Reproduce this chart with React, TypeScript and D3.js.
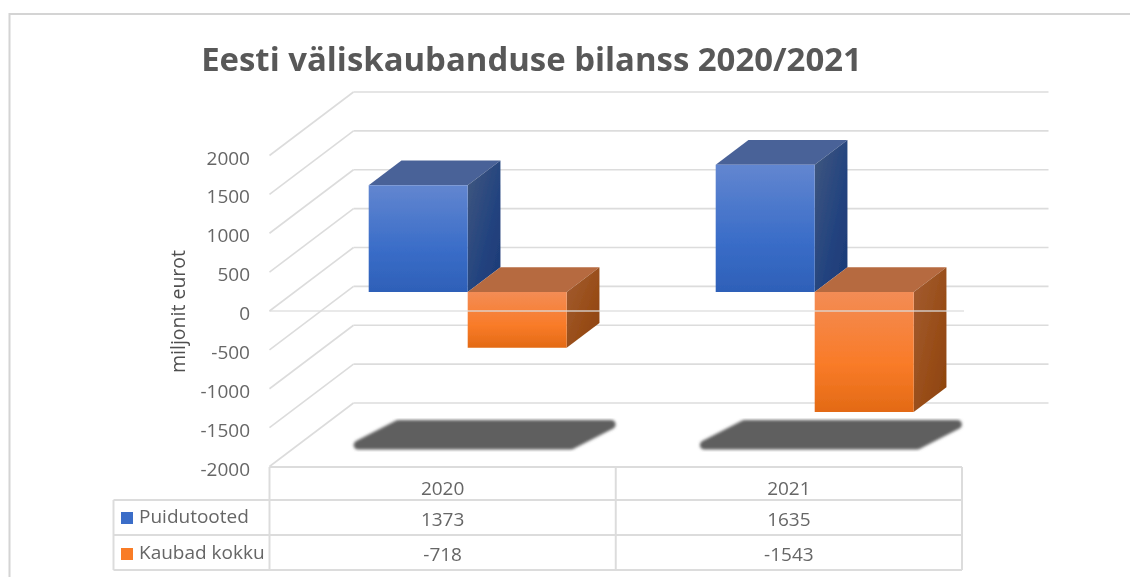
// App.tsx
import React from 'react';
import * as d3 from 'd3';

const years = ['2020', '2021'];
const puidutooted = [1373, 1635];
const kaubadKokku = [-718, -1543];
const yTicks = [2000, 1500, 1000, 500, 0, -500, -1000, -1500, -2000];
const seriesNames = ['Puidutooted', 'Kaubad kokku'];

const width = 1130;
const height = 577;
const font = '"Open Sans", "Noto Sans", sans-serif';
const textColor = '#666666';
const gridColor = '#dcdcdc';

// front plane of the 3D box
const x = d3.scaleBand<string>().domain(years).range([269.5, 962]);
const barX = d3.scaleBand<string>().domain(years).range([269, 963]);
const y = d3.scaleLinear().domain([-2000, 2000]).range([466.5, 155.5]);
// depth of the box, 0 = front, 1 = back wall
const depthX = d3.scaleLinear().domain([0, 1]).range([0, 84]);
const depthY = d3.scaleLinear().domain([0, 1]).range([0, -63.5]);
const wallRight = 1048.5;

const barFront = 0.3;
const barBack = 0.69;
const barHalf = 99;

const path = d3.line<[number, number]>().curve(d3.curveLinearClosed);

const px = (xv: number, z: number) => xv + depthX(z);
const py = (v: number, z: number) => y(v) + depthY(z);

const Bar = ({ left, right, value, front, top, side }: any) => {
  const hi = Math.max(value, 0);
  const lo = Math.min(value, 0);
  const frontFace: [number, number][] = [
    [px(left, barFront), py(hi, barFront)],
    [px(right, barFront), py(hi, barFront)],
    [px(right, barFront), py(lo, barFront)],
    [px(left, barFront), py(lo, barFront)],
  ];
  const topFace: [number, number][] = [
    [px(left, barFront), py(hi, barFront)],
    [px(left, barBack), py(hi, barBack)],
    [px(right, barBack), py(hi, barBack)],
    [px(right, barFront), py(hi, barFront)],
  ];
  const sideFace: [number, number][] = [
    [px(right, barFront), py(hi, barFront)],
    [px(right, barBack), py(hi, barBack)],
    [px(right, barBack), py(lo, barBack)],
    [px(right, barFront), py(lo, barFront)],
  ];
  return (
    <g>
      <path d={path(topFace)!} fill={top} />
      <path d={path(sideFace)!} fill={side} />
      <path d={path(frontFace)!} fill={front} />
    </g>
  );
};

export default function App() {
  const shadowNear = 0.339;
  const shadowFar = 0.661;
  const shadowHalf = 106.5;
  const shadowSkew = 6.5;
  const rowLines = [467, 500, 535, 570];
  const tableLeft = 113.5;

  return (
    <svg width={width} height={height} style={{ position: 'absolute', left: 0, top: 0, background: '#fff' }}>
      <defs>
        <filter id="soft" x="-2%" y="-2%" width="104%" height="104%">
          <feGaussianBlur stdDeviation="0.5" />
        </filter>
        <filter id="shadowBlur" x="-10%" y="-30%" width="120%" height="160%">
          <feGaussianBlur stdDeviation="1.6" />
        </filter>
        <linearGradient id="blueFront" x1="0" y1="0" x2="0" y2="1">
          <stop offset="0" stopColor="#6286d0" />
          <stop offset="0.6" stopColor="#3a6dc8" />
          <stop offset="1" stopColor="#2e60b8" />
        </linearGradient>
        <linearGradient id="blueSide" x1="0" y1="0" x2="1" y2="1">
          <stop offset="0" stopColor="#41587f" />
          <stop offset="0.6" stopColor="#23437f" />
          <stop offset="1" stopColor="#1c3a75" />
        </linearGradient>
        <linearGradient id="orangeFront" x1="0" y1="0" x2="0" y2="1">
          <stop offset="0" stopColor="#f38c55" />
          <stop offset="0.6" stopColor="#f97b28" />
          <stop offset="1" stopColor="#e36a15" />
        </linearGradient>
        <linearGradient id="orangeSide" x1="0" y1="0" x2="1" y2="1">
          <stop offset="0" stopColor="#a35c32" />
          <stop offset="0.6" stopColor="#984d18" />
          <stop offset="1" stopColor="#8c420c" />
        </linearGradient>
      </defs>

      <g filter="url(#soft)">
        {/* frame */}
        <path d={`M9.5,${height}V14H${width}`} fill="none" stroke="#d4d4d4" strokeWidth={2} />

        {/* walls */}
        {yTicks.map((t) => (
          <g key={t} stroke={gridColor} strokeWidth={1.6} fill="none">
            <line x1={x.range()[0]} y1={y(t)} x2={px(x.range()[0], 1)} y2={py(t, 1)} />
            <line x1={px(x.range()[0], 1)} y1={py(t, 1)} x2={wallRight} y2={py(t, 1)} />
          </g>
        ))}

        {/* shadows on the floor */}
        {years.map((yr) => {
          const c = x(yr)! + x.bandwidth() / 2;
          const pts: [number, number][] = [
            [px(c - shadowHalf - shadowSkew, shadowNear), py(-2000, shadowNear)],
            [px(c - shadowHalf + shadowSkew, shadowFar), py(-2000, shadowFar)],
            [px(c + shadowHalf + shadowSkew, shadowFar), py(-2000, shadowFar)],
            [px(c + shadowHalf - shadowSkew, shadowNear), py(-2000, shadowNear)],
          ];
          return (
            <path key={yr} d={path(pts)!} fill="#5f5f5f" stroke="#5f5f5f" strokeWidth={9} strokeLinejoin="round" filter="url(#shadowBlur)" />
          );
        })}

        {/* bars */}
        {years.map((yr, i) => {
          const c = barX(yr)! + barX.bandwidth() / 2;
          return (
            <g key={yr}>
              <Bar left={c - barHalf} right={c} value={puidutooted[i]} front="url(#blueFront)" top="#4a6298" side="url(#blueSide)" />
              <Bar left={c} right={c + barHalf} value={kaubadKokku[i]} front="url(#orangeFront)" top="#b66a40" side="url(#orangeSide)" />
            </g>
          );
        })}

        {/* zero line runs in front of the bars */}
        <line x1={x.range()[0]} y1={y(0)} x2={964} y2={y(0)} stroke={gridColor} strokeOpacity={0.85} strokeWidth={1.6} />

        {/* data table */}
        <g stroke={gridColor} strokeWidth={2} fill="none">
          <line x1={x.range()[0]} y1={rowLines[0]} x2={x.range()[1]} y2={rowLines[0]} />
          {rowLines.slice(1).map((r) => (
            <line key={r} x1={tableLeft} y1={r} x2={x.range()[1]} y2={r} />
          ))}
          <line x1={tableLeft} y1={rowLines[1]} x2={tableLeft} y2={rowLines[3]} />
          <line x1={x.range()[0]} y1={rowLines[0]} x2={x.range()[0]} y2={rowLines[3]} />
          <line x1={x(years[1])} y1={rowLines[0]} x2={x(years[1])} y2={rowLines[3]} />
          <line x1={x.range()[1]} y1={rowLines[0]} x2={x.range()[1]} y2={rowLines[3]} />
        </g>

        <g fontFamily={font} fill={textColor}>
          <text x={531.5} y={70.5} textAnchor="middle" fontSize={32.9} fontWeight={700} fill="#595959">
            Eesti väliskaubanduse bilanss 2020/2021
          </text>

          {yTicks.map((t) => (
            <text key={t} x={250} y={y(t) + 9} textAnchor="end" fontSize={19}>
              {t}
            </text>
          ))}

          <text transform="translate(185,311.5) rotate(-90)" textAnchor="middle" fontSize={19.5} fill="#505050">
            miljonit eurot
          </text>

          {years.map((yr, i) => {
            const c = x(yr)! + x.bandwidth() / 2;
            return (
              <g key={yr} textAnchor="middle" fontSize={19}>
                <text x={c} y={495}>{yr}</text>
                <text x={c} y={526}>{puidutooted[i]}</text>
                <text x={c} y={561}>{kaubadKokku[i]}</text>
              </g>
            );
          })}

          {seriesNames.map((name, i) => (
            <g key={name}>
              <rect x={121} y={512 + i * 36} width={12} height={12} fill={i === 0 ? '#3a6dc8' : '#f97b28'} />
              <text x={139} y={523 + i * 36} fontSize={19}>{name}</text>
            </g>
          ))}
        </g>
      </g>
    </svg>
  );
}
